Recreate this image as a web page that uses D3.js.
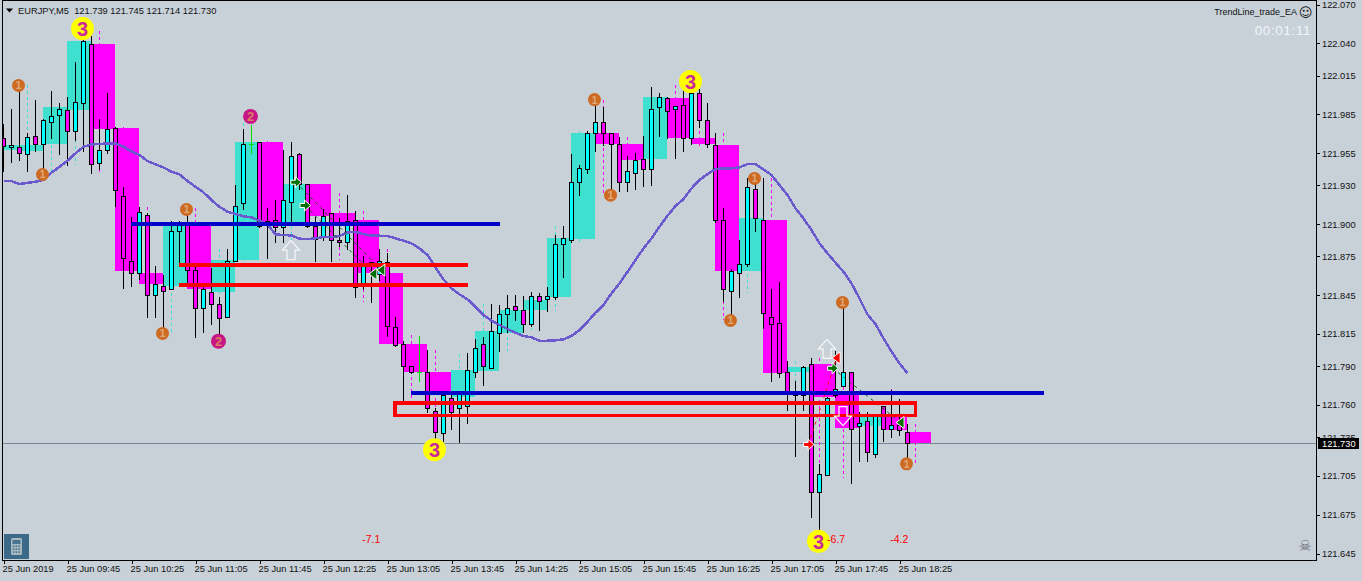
<!DOCTYPE html>
<html><head><meta charset="utf-8">
<script src="https://cdn.jsdelivr.net/npm/d3@7/dist/d3.min.js"></script>
<style>
html,body{margin:0;padding:0;background:#c8d0d8;overflow:hidden}
svg{display:block}
text{font-family:"Liberation Sans",Arial,sans-serif;font-size:9.3px;fill:#111}
</style></head><body><div id="chart"></div>
<script>
const tickLabels=["25 Jun 2019","25 Jun 09:45","25 Jun 10:25","25 Jun 11:05","25 Jun 11:45","25 Jun 12:25","25 Jun 13:05","25 Jun 13:45","25 Jun 14:25","25 Jun 15:05","25 Jun 15:45","25 Jun 16:25","25 Jun 17:05","25 Jun 17:45","25 Jun 18:25"];
const priceTicks=[122.070,122.040,122.015,121.985,121.955,121.930,121.900,121.875,121.845,121.815,121.790,121.760,121.735,121.705,121.675,121.645];
const open=[121.966,121.959,121.959,121.954,121.968,121.962,121.979,121.984,121.988,121.972,
121.993,122.039,121.947,121.957,121.974,121.921,121.871,121.862,121.907,121.845,
121.852,121.849,121.894,121.900,121.864,121.835,121.847,121.838,121.828,121.871,
121.916,121.962,121.963,121.902,121.903,121.897,121.917,121.954,121.931,121.898,
121.890,121.908,121.887,121.886,121.903,121.854,121.870,121.861,121.870,121.820,
121.807,121.790,121.785,121.785,121.755,121.738,121.765,121.757,121.759,121.785,
121.807,121.788,121.815,121.830,121.836,121.833,121.822,121.844,121.842,121.843,
121.884,121.887,121.932,121.942,121.970,121.979,121.970,121.962,121.932,121.939,
121.950,121.942,121.990,121.997,121.989,121.992,121.966,122.001,121.980,121.961,
121.903,121.848,121.862,121.869,121.927,121.903,121.828,121.823,121.785,121.767,
121.767,121.791,121.692,121.705,121.767,121.774,121.785,121.743,121.747,121.722,
121.759,121.741,121.744,121.739];
const close=[121.960,121.961,121.955,121.967,121.962,121.980,121.983,121.989,121.972,121.994,
122.041,121.946,121.957,121.973,121.926,121.873,121.862,121.909,121.845,121.853,
121.848,121.894,121.900,121.864,121.835,121.849,121.838,121.827,121.871,121.914,
121.962,121.962,121.898,121.901,121.897,121.918,121.952,121.931,121.898,121.888,
121.906,121.887,121.886,121.902,121.851,121.868,121.868,121.871,121.821,121.806,
121.790,121.785,121.785,121.757,121.739,121.767,121.754,121.769,121.787,121.804,
121.790,121.817,121.830,121.835,121.833,121.822,121.844,121.840,121.844,121.884,
121.889,121.932,121.943,121.970,121.979,121.970,121.962,121.932,121.941,121.949,
121.942,121.989,121.998,121.987,121.991,121.966,122.001,121.980,121.962,121.903,
121.849,121.863,121.869,121.928,121.904,121.831,121.822,121.784,121.769,121.770,
121.789,121.692,121.706,121.765,121.772,121.785,121.741,121.746,121.723,121.751,
121.741,121.744,121.740,121.730];
const high=[121.977,121.989,122.007,121.970,121.996,121.981,122.003,121.993,121.998,122.025,
122.043,122.045,121.981,122.001,121.975,121.928,121.905,121.913,121.908,121.867,
121.860,121.902,121.902,121.907,121.868,121.852,121.866,121.843,121.880,121.930,
121.973,121.976,121.963,121.912,121.918,121.957,121.963,121.955,121.931,121.905,
121.911,121.908,121.904,121.922,121.910,121.875,121.870,121.880,121.877,121.828,
121.809,121.790,121.813,121.802,121.757,121.767,121.769,121.769,121.800,121.811,
121.812,121.838,121.837,121.845,121.845,121.844,121.847,121.846,121.851,121.891,
121.898,121.954,121.945,121.972,121.996,121.990,121.970,121.967,121.952,121.955,
121.968,122.006,122.001,121.998,121.991,122.003,122.003,122.004,121.993,121.970,
121.912,121.865,121.887,121.935,121.931,121.935,121.849,121.855,121.794,121.778,
121.790,121.796,121.714,121.766,121.801,121.835,121.785,121.754,121.754,121.752,
121.759,121.771,121.764,121.745];
const low=[121.941,121.948,121.949,121.941,121.956,121.940,121.966,121.954,121.945,121.965,
121.956,121.939,121.942,121.955,121.914,121.850,121.852,121.857,121.828,121.828,
121.816,121.849,121.868,121.854,121.812,121.816,121.822,121.812,121.828,121.871,
121.911,121.955,121.897,121.873,121.886,121.886,121.902,121.927,121.897,121.871,
121.887,121.871,121.883,121.880,121.843,121.849,121.839,121.856,121.813,121.805,
121.761,121.784,121.778,121.754,121.733,121.732,121.741,121.731,121.746,121.781,
121.775,121.788,121.801,121.816,121.825,121.816,121.821,121.818,121.832,121.842,
121.859,121.886,121.922,121.939,121.956,121.961,121.922,121.925,121.925,121.927,
121.929,121.930,121.968,121.966,121.951,121.956,121.962,121.975,121.959,121.901,
121.840,121.830,121.843,121.867,121.894,121.819,121.778,121.781,121.756,121.720,
121.756,121.673,121.659,121.705,121.766,121.774,121.699,121.716,121.716,121.719,
121.732,121.735,121.736,121.714];
const maValues=[121.9329,121.9329,121.9306,121.9316,121.9324,121.9339,121.9394,121.9440,121.9487,121.9544,
121.9595,121.9613,121.9616,121.9621,121.9621,121.9595,121.9559,121.9531,121.9484,121.9459,
121.9435,121.9401,121.9381,121.9329,121.9285,121.9242,121.9182,121.9130,121.9092,121.9074,
121.9056,121.9048,121.9022,121.8994,121.8917,121.8911,121.8909,121.8883,121.8880,121.8886,
121.8896,121.8896,121.8904,121.8932,121.8935,121.8919,121.8906,121.8906,121.8904,121.8886,
121.8867,121.8847,121.8808,121.8757,121.8661,121.8568,121.8499,121.8452,121.8414,121.8356,
121.8292,121.8248,121.8215,121.8184,121.8155,121.8130,121.8120,121.8093,121.8093,121.8096,
121.8104,121.8130,121.8176,121.8240,121.8310,121.8370,121.8460,121.8537,121.8627,121.8718,
121.8808,121.8886,121.8976,121.9061,121.9136,121.9190,121.9273,121.9337,121.9384,121.9422,
121.9428,121.9428,121.9435,121.9461,121.9461,121.9420,121.9376,121.9298,121.9221,121.9118,
121.9040,121.8950,121.8847,121.8770,121.8697,121.8627,121.8537,121.8421,121.8297,121.8222,
121.8112,121.8008,121.7918,121.7840];
const m15Open=[121.957,121.956,121.962,121.988,122.039,121.974,121.862,121.852,121.898,121.847,121.872,121.963,121.898,121.931,121.908,121.903,121.862,121.807,121.785,121.766,121.786,121.815,121.833,121.843,121.888,121.970,121.962,121.950,121.997,121.966,121.961,121.863,121.903,121.785,121.791,121.767,121.743,121.751,121.739];
const m15Close=[121.961,121.961,121.990,122.041,121.973,121.863,121.853,121.898,121.849,121.872,121.963,121.898,121.931,121.906,121.901,121.862,121.807,121.785,121.767,121.787,121.817,121.833,121.841,121.889,121.970,121.962,121.949,121.998,121.966,121.962,121.863,121.904,121.784,121.789,121.766,121.742,121.750,121.740,121.730];
const m15High=[121.961,122.007,122.003,122.025,122.049,121.975,121.913,121.902,121.912,121.880,121.978,121.964,121.963,121.931,121.924,121.910,121.880,121.814,121.802,121.799,121.838,121.845,121.847,121.898,121.972,121.996,121.967,122.006,122.007,122.004,121.970,121.935,121.935,121.794,121.796,121.834,121.754,121.772,121.745];
const m15Low=[121.957,121.941,121.940,121.945,121.939,121.850,121.828,121.816,121.812,121.812,121.870,121.873,121.887,121.871,121.872,121.839,121.806,121.761,121.733,121.732,121.775,121.801,121.818,121.832,121.886,121.922,121.925,121.929,121.951,121.959,121.825,121.846,121.778,121.720,121.673,121.703,121.716,121.735,121.714];
const badgeIndex=[2,5,23,20,74,76,94,91,105,113,31,27,10,54,86,102];
const badgePrice=[122.007,121.938,121.911,121.815,121.996,121.922,121.935,121.825,121.839,121.714,121.983,121.809,122.051,121.725,122.010,121.654];
const badgeLevel=[1,1,1,1,1,1,1,1,1,1,2,2,3,3,3,3];
const hLineFrom=[16,51,21.95,21.95];
const hLineTo=[62.1,130.1,58.1,58.1];
const hLinePrice=[121.900,121.769,121.868,121.8525];
const hLineColor=["#0000c8","#0000c8","#ff0000","#ff0000"];
const boxFrom=49.0,boxTo=114.1,boxTop=121.761,boxBottom=121.7515;
const tradeFromI=[36.6,37.75,103.7,100.7];
const tradeFromP=[121.932,121.914,121.788,121.729];
const tradeToI=[47.3,46.3,112.2,104.2];
const tradeToP=[121.864,121.861,121.746,121.796];
const tradeColor=["#006400","#006400","#006400","#ff0000"];
const arrowIndex=[36,103,105];
const arrowPrice=[121.8795,121.803,121.751];
const arrowDir=[1,1,-1];
const profitIndex=[44.9,103,110.9];
const profitText=["-7.1","-6.7","-4.2"];
const bid=121.730;

const W=1362,H=581,L=2.5,R=1316.5,T=0.5,B=560.5;
const x=d3.scaleLinear().domain([0,113]).range([3,907]);
const y=d3.scaleLinear().domain([121.645,122.070]).range([553,4]);
const yr=p=>Math.round(y(p));
const svg=d3.select("#chart").append("svg").attr("width",W).attr("height",H);
svg.append("defs").append("clipPath").attr("id","plot").append("rect").attr("x",3).attr("y",1).attr("width",R-3).attr("height",B-1);
const g=svg.append("g").attr("clip-path","url(#plot)");

// bid line
g.append("line").attr("x1",3).attr("x2",R).attr("y1",yr(bid)+.5).attr("y2",yr(bid)+.5).attr("stroke","#778899");

// M15 boxes
const idx15=d3.range(m15Open.length);
g.selectAll("rect.box").data(idx15).join("rect")
 .attr("shape-rendering","crispEdges")
 .attr("x",k=>x(-1+3*k)).attr("width",k=>x(2+3*k)-x(-1+3*k))
 .attr("y",k=>yr(Math.max(m15Open[k],m15Close[k])))
 .attr("height",k=>Math.max(1,yr(Math.min(m15Open[k],m15Close[k]))-yr(Math.max(m15Open[k],m15Close[k]))))
 .attr("fill",k=>m15Close[k]>m15Open[k]?"#40e0d0":"#ff00ff");
g.selectAll("line.w15").data(idx15).join("line")
 .attr("shape-rendering","crispEdges")
 .attr("x1",k=>x(3*k)+.5).attr("x2",k=>x(3*k)+.5)
 .attr("y1",k=>yr(m15High[k])).attr("y2",k=>yr(m15Low[k]))
 .attr("stroke",k=>m15Close[k]>m15Open[k]?"#40e0d0":"#ff00ff")
 .attr("stroke-dasharray","3,3");

// candles
const idx=d3.range(open.length);
g.selectAll("line.wick").data(idx).join("line")
 .attr("shape-rendering","crispEdges")
 .attr("x1",i=>x(i)+.5).attr("x2",i=>x(i)+.5)
 .attr("y1",i=>yr(high[i])).attr("y2",i=>yr(low[i])+1)
 .attr("stroke",i=>open[i]===close[i]?"#00e000":"#000");
g.selectAll("rect.body").data(idx.filter(i=>open[i]!==close[i])).join("rect")
 .attr("shape-rendering","crispEdges")
 .attr("x",i=>x(i)-1.5).attr("width",4)
 .attr("y",i=>yr(Math.max(open[i],close[i]))+.5)
 .attr("height",i=>Math.max(1,yr(Math.min(open[i],close[i]))-yr(Math.max(open[i],close[i]))))
 .attr("fill",i=>close[i]>open[i]?"#00ffff":"#ff00ff").attr("stroke","#000");
g.selectAll("line.doji").data(idx.filter(i=>open[i]===close[i])).join("line")
 .attr("shape-rendering","crispEdges")
 .attr("x1",i=>x(i)-2).attr("x2",i=>x(i)+3)
 .attr("y1",i=>yr(open[i])+.5).attr("y2",i=>yr(open[i])+.5).attr("stroke","#00e000");

// moving average
g.append("path").datum(maValues)
 .attr("d",d3.line().x((d,i)=>x(i)+.5).y(d=>y(d)))
 .attr("fill","none").attr("stroke","#6a5acd").attr("stroke-width",2.5).attr("shape-rendering","crispEdges");

// trade connector lines
g.selectAll("line.trade").data(d3.range(tradeFromI.length)).join("line")
 .attr("x1",t=>x(tradeFromI[t])).attr("y1",t=>y(tradeFromP[t]))
 .attr("x2",t=>x(tradeToI[t])).attr("y2",t=>y(tradeToP[t]))
 .attr("stroke",t=>tradeColor[t]).attr("stroke-dasharray","3,4");

// level lines
g.selectAll("line.level").data(d3.range(hLinePrice.length)).join("line")
 .attr("shape-rendering","crispEdges")
 .attr("x1",t=>x(hLineFrom[t])).attr("x2",t=>x(hLineTo[t]))
 .attr("y1",t=>y(hLinePrice[t])).attr("y2",t=>y(hLinePrice[t]))
 .attr("stroke",t=>hLineColor[t]).attr("stroke-width",4);
g.append("rect").attr("shape-rendering","crispEdges")
 .attr("x",x(boxFrom)).attr("width",x(boxTo)-x(boxFrom))
 .attr("y",y(boxTop)).attr("height",y(boxBottom)-y(boxTop))
 .attr("fill","none").attr("stroke","#ff0000").attr("stroke-width",3.4);

// white arrows
const upPath="M0,-9.5L8.5,0L4,0L4,9.5L-4,9.5L-4,0L-8.5,0Z";
g.selectAll("path.arr").data(d3.range(arrowIndex.length)).join("path")
 .attr("d",upPath).attr("fill","none").attr("stroke","#f4f6f8").attr("stroke-width",1.3)
 .attr("transform",t=>`translate(${x(arrowIndex[t])},${y(arrowPrice[t])}) scale(1,${arrowDir[t]})`);

// deal markers
const rightPath="M-5,-2L-0.5,-2L-0.5,-5.5L5.5,0L-0.5,5.5L-0.5,2L-5,2Z";
const leftPath="M-4.5,0L3.5,-6L3.5,6Z";
const deals=[[tradeFromI[0],tradeFromP[0],rightPath,"#007000"],[tradeFromI[1],tradeFromP[1],rightPath,"#007000"],
 [tradeToI[0],tradeToP[0],leftPath,"#007000"],[tradeToI[1],tradeToP[1],leftPath,"#007000"],
 [tradeFromI[2],tradeFromP[2],rightPath,"#007000"],[tradeToI[2],tradeToP[2],leftPath,"#007000"],
 [tradeFromI[3],tradeFromP[3],rightPath,"#ff0000"],[tradeToI[3],tradeToP[3],leftPath,"#ff0000"]];
g.selectAll("path.deal").data(deals).join("path")
 .attr("d",d=>d[2]).attr("fill",d=>d[3]).attr("stroke","#fff").attr("stroke-width",1)
 .attr("transform",d=>`translate(${x(d[0])},${y(d[1])})`);

// badges
const rad={1:6.5,2:7.5,3:11.5},bg={1:"#cf6a22",2:"#c71585",3:"#ffff00"},fg={1:"#dca878",2:"#d88060",3:"#cc2a9a"},fs={1:11,2:13,3:20};
const badges=g.selectAll("g.badge").data(d3.range(badgeIndex.length)).join("g")
 .attr("transform",b=>`translate(${x(badgeIndex[b])-0.5},${y(badgePrice[b])})`);
badges.append("circle").attr("r",b=>rad[badgeLevel[b]]).attr("fill",b=>bg[badgeLevel[b]]);
badges.append("text").text(b=>badgeLevel[b]).attr("text-anchor","middle").attr("dy","0.36em")
 .style("font-size",b=>fs[badgeLevel[b]]+"px").style("font-weight","bold").style("fill",b=>fg[badgeLevel[b]]);

// profit labels
g.selectAll("text.pl").data(profitText).join("text").attr("class","pl")
 .attr("x",(d,i)=>x(profitIndex[i])).attr("y",543).text(d=>d).style("fill","#ff0000").style("font-size","10.5px");

// frame
svg.append("rect").attr("x",L).attr("y",T).attr("width",R-L).attr("height",B-T).attr("fill","none").attr("stroke","#000").attr("shape-rendering","crispEdges");

// axes
const xAxis=d3.axisBottom(x).tickValues(d3.range(tickLabels.length).map(k=>8*k)).tickFormat((d,i)=>tickLabels[i]).tickSize(3).tickSizeOuter(0);
const gx=svg.append("g").attr("transform",`translate(0.5,${B})`).call(xAxis);
gx.select(".domain").remove();
gx.selectAll("line").attr("stroke","#000").attr("shape-rendering","crispEdges");
gx.selectAll("text").attr("text-anchor","start").attr("x",-1.5).attr("y",5).attr("dy","0.71em").style("font-size","9.3px").style("font-family",'"Liberation Sans"').style("fill","#111");

const yAxis=d3.axisRight(y).tickValues(priceTicks).tickFormat(d3.format(".3f")).tickSize(3).tickSizeOuter(0);
const gy=svg.append("g").attr("transform",`translate(${R},0.5)`).call(yAxis);
gy.select(".domain").remove();
gy.selectAll("line").attr("stroke","#000").attr("shape-rendering","crispEdges");
gy.selectAll("text").attr("x",5.5).style("font-size","9.3px").style("font-family",'"Liberation Sans"').style("fill","#111");

// current price tag
svg.append("rect").attr("x",1318).attr("y",yr(bid)-5).attr("width",41).attr("height",11).attr("fill","#000");
svg.append("text").attr("x",1322).attr("y",yr(bid)+4).text(bid.toFixed(3)).style("fill","#fff");

// header
svg.append("path").attr("d","M6,8.5L13,8.5L9.5,12.5Z").attr("fill","#000");
svg.append("text").attr("x",18).attr("y",14).text("EURJPY,M5  "+[open[113],high[113],low[113],close[113]].map(d3.format(".3f")).join(" ")).style("white-space","pre");
svg.append("text").attr("x",1297).attr("y",15).attr("text-anchor","end").text("TrendLine_trade_EA").style("font-size","9px");
svg.append("text").attr("x",1305.5).attr("y",17).attr("text-anchor","middle").text("\u263A").style("font-family","DejaVu Sans").style("font-size","13px");
svg.append("text").attr("x",1311).attr("y",35).attr("text-anchor","end").text("00:01:11").style("fill","#f2f5f8").style("font-size","13.5px").style("letter-spacing","0.6px");

// calculator icon
const ic=svg.append("g").attr("transform","translate(4,534)");
ic.append("rect").attr("width",25).attr("height",25).attr("fill","#3a6a88");
ic.append("rect").attr("x",7).attr("y",4).attr("width",11).attr("height",17).attr("rx",1.5).attr("fill","#a8b8c0");
ic.append("rect").attr("x",8.5).attr("y",6).attr("width",8).attr("height",4).attr("fill","#4a7590");
d3.range(9).forEach(n=>ic.append("rect").attr("x",8.8+(n%3)*2.8).attr("y",11.5+Math.floor(n/3)*2.9).attr("width",1.6).attr("height",1.6).attr("fill","#4a7590"));
svg.append("text").attr("x",1305).attr("y",551).attr("text-anchor","middle").text("\u2620").style("font-family","DejaVu Sans").style("font-size","15px").style("fill","#6a7078");
</script></body></html>
